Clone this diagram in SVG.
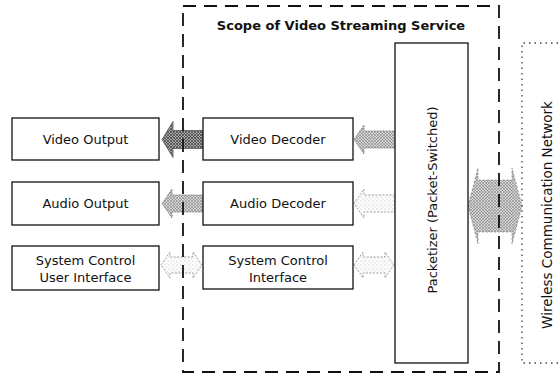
<svg xmlns="http://www.w3.org/2000/svg" width="558" height="376" viewBox="0 0 558 376">
<defs>
<pattern id="hDark" width="3" height="3" patternUnits="userSpaceOnUse"><rect width="3" height="3" fill="#a8a8a8"/><path d="M0,0 L3,3 M3,0 L0,3" stroke="#3a3a3a" stroke-width="0.7"/></pattern>
<pattern id="hMid" width="3" height="3" patternUnits="userSpaceOnUse"><rect width="3" height="3" fill="#d6d6d6"/><path d="M0,0 L3,3 M3,0 L0,3" stroke="#777" stroke-width="0.5"/></pattern>
<pattern id="hLight" width="4" height="4" patternUnits="userSpaceOnUse"><rect width="4" height="4" fill="#fff"/><circle cx="1" cy="1" r="0.6" fill="#aaa"/><circle cx="3" cy="3" r="0.5" fill="#bbb"/></pattern>
</defs>
<style>
.box{fill:#fff;stroke:#111;stroke-width:1.3}
.t{font-family:"DejaVu Sans","Verdana",sans-serif;font-size:13px;fill:#111;text-anchor:middle}
.title{font-family:"DejaVu Sans","Verdana",sans-serif;font-size:13px;font-weight:bold;fill:#111;text-anchor:middle}
.scope{fill:none;stroke:#111;stroke-width:1.8;stroke-dasharray:13 8}
.net{fill:none;stroke:#444;stroke-width:1.3;stroke-dasharray:1.5 4}
.ad{fill:url(#hDark);stroke:#555;stroke-width:0.8}
.am{fill:url(#hMid);stroke:#777;stroke-width:0.8;stroke-dasharray:2 1}
.al{fill:url(#hLight);stroke:#888;stroke-width:0.8;stroke-dasharray:2 1.5}
.aw{fill:url(#hMid);stroke:#888;stroke-width:0.8;stroke-dasharray:2 2}
</style>
<rect width="558" height="376" fill="#fff"/>

<g id="connectors">
<path class="ad" d="M162,139.5 L173,121.5 L173,130.5 L203,130.5 L203,148.5 L173,148.5 L173,157.5 Z"/>
<path class="am" d="M162,203.5 L172,189 L172,195 L203,195 L203,212 L172,212 L172,218 Z"/>
<path class="al" d="M161,265 L170,252 L170,257 L193,257 L193,252 L202,265 L193,278 L193,273 L170,273 L170,278 Z"/>
<path class="am" d="M354,139.5 L364,125 L364,131 L395,131 L395,148 L364,148 L364,154 Z"/>
<path class="al" d="M354,203.5 L364,189 L364,195 L395,195 L395,212 L364,212 L364,218 Z"/>
<path class="al" d="M354,265 L363,252 L363,257 L385,257 L385,252 L394,265 L385,278 L385,273 L363,273 L363,278 Z"/>
<path class="aw" d="M468,206 L478,168 L478,180 L512,180 L512,168 L522,206 L512,244 L512,232 L478,232 L478,244 Z"/>
</g>

<g id="scope">
<rect class="scope" x="183" y="6" width="316" height="366"/>
<text class="title" x="341" y="30">Scope of Video Streaming Service</text>
</g>

<g id="network">
<path class="net" d="M558,43 H522 V363 H558"/>
<text class="t" style="font-size:13.5px" transform="translate(552,215) rotate(-90)">Wireless Communication Network</text>
</g>

<g id="video-output">
<rect class="box" x="12" y="118" width="147" height="42"/>
<text class="t" x="85.5" y="144">Video Output</text>
</g>
<g id="audio-output">
<rect class="box" x="12" y="182" width="147" height="43"/>
<text class="t" x="85.5" y="208">Audio Output</text>
</g>
<g id="system-control-ui">
<rect class="box" x="12" y="246" width="147" height="44"/>
<text class="t" x="85.5" y="265">System Control</text>
<text class="t" x="85.5" y="282">User Interface</text>
</g>

<g id="video-decoder">
<rect class="box" x="203" y="118" width="150" height="42"/>
<text class="t" x="278" y="144">Video Decoder</text>
</g>
<g id="audio-decoder">
<rect class="box" x="203" y="182" width="150" height="43"/>
<text class="t" x="278" y="208">Audio Decoder</text>
</g>
<g id="system-control-interface">
<rect class="box" x="203" y="246" width="150" height="43"/>
<text class="t" x="278" y="265">System Control</text>
<text class="t" x="278" y="282">Interface</text>
</g>

<g id="packetizer">
<rect class="box" x="395" y="43" width="73" height="320"/>
<text class="t" transform="translate(437,200) rotate(-90)">Packetizer (Packet-Switched)</text>
</g>
</svg>
